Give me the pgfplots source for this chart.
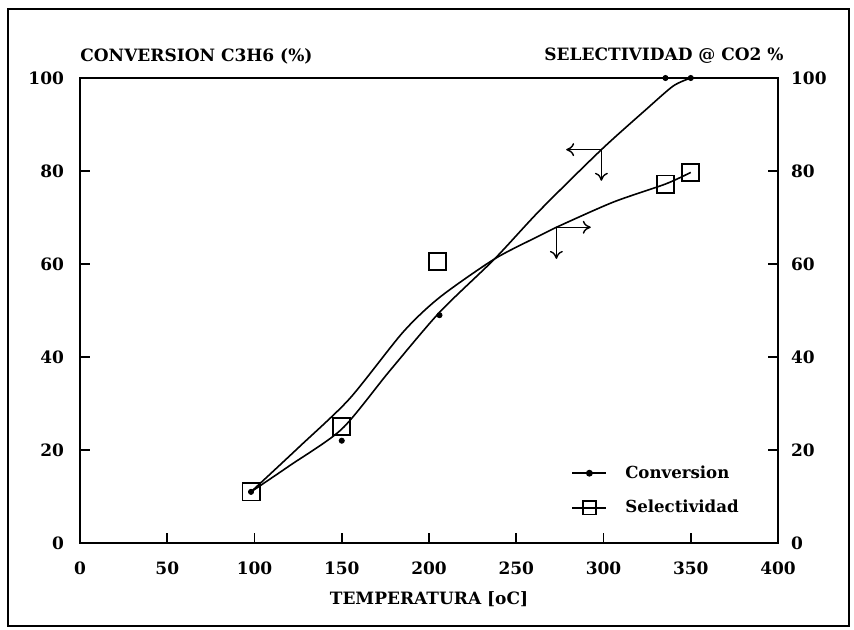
\documentclass[border=0pt]{standalone}
\usepackage{fontspec}
\setmainfont{DejaVu Serif}
\usepackage{pgfplots}
\pgfplotsset{compat=1.18}
\usetikzlibrary{arrows.meta}

\pgfplotsset{
  base/.style={
    scale only axis,
    width=349pt, height=232.5pt,
    at={(0,0)}, anchor=south west,
    xmin=0, xmax=400, ymin=0, ymax=100,
    tick align=inside,
    major tick length=5pt,
    axis line style={line width=1pt},
    tick style={line width=0.9pt, black},
    /pgf/number format/assume math mode=true,
    tick label style={font=\fontsize{8.5}{10}\selectfont\bfseries},
    label style={font=\fontsize{8.5}{10}\selectfont\bfseries},
  }
}

\begin{document}
\begin{tikzpicture}[font=\fontsize{8.5}{10}\selectfont\bfseries]
% canvas and outer frame
\path (-40pt,-43pt) rectangle (387pt,271.5pt);
\draw[line width=1.4pt] (-36pt,-41.5pt) rectangle (384.5pt,267pt);

\begin{axis}[base,
  xtick={0,50,...,400}, ytick={0,20,...,100},
  xtick pos=bottom, ytick pos=left,
  xticklabel style={yshift=-6pt},
  yticklabel style={xshift=-4.5pt},
  xlabel={TEMPERATURA [oC]},
  xlabel style={at={(axis description cs:0.5,0)}, anchor=center, yshift=-28pt},
  clip=false,
  legend style={at={(axis cs:278,18.5)}, anchor=north west, draw=none, fill=none,
    row sep=5.5pt, font=\fontsize{8.3}{10}\selectfont\bfseries},
  legend cell align=left,
]
\addlegendimage{black, line width=0.8pt, mark=*, mark size=1.3pt}
\addlegendentry{\hspace{7pt}Conversion}
\addlegendimage{black, line width=0.8pt, mark=square, mark size=3.3pt, mark options={line width=0.9pt}}
\addlegendentry{\hspace{7pt}Selectividad}

% fitted curves
\addplot[black, line width=0.8pt, smooth, tension=0.45, forget plot] coordinates {
  (98,11)(120,16.6)(150,24.5)(177,36.8)(206,49.6)(237.6,61.1)(263.4,71.5)
  (298.8,84.6)(324.6,93.3)(340,98.3)(350,100)};
\addplot[black, line width=0.8pt, smooth, tension=0.45, forget plot] coordinates {
  (98,11)(126,20.8)(154.4,31)(185,45.3)(206,52.8)(237.6,61.1)(263.4,66.1)
  (273,67.9)(305.5,73.3)(335.5,77.2)(350,79.7)};

% measured points
\addplot[only marks, mark=*, mark size=1.3pt, black, forget plot] coordinates {
  (98,11)(150,22)(206,49)(335.5,100)(350,100)};
\addplot[only marks, mark=square, mark size=4.3pt, black, mark options={line width=0.9pt}, forget plot] coordinates {
  (98,11)(150,25.1)(205,60.6)(335.5,77.2)(350,79.7)};

% axis-pointer arrows
\begin{scope}[line width=0.7pt, -{To[length=4pt,width=6.5pt]}]
\draw (axis cs:298.8,84.6) -- (axis cs:278.6,84.6);
\draw (axis cs:298.8,84.6) -- (axis cs:298.8,77.9);
\draw (axis cs:273,67.9) -- (axis cs:292.7,67.9);
\draw (axis cs:273,67.9) -- (axis cs:273,61.1);
\end{scope}

\node[anchor=west, inner sep=0pt] at ([yshift=11pt]axis description cs:0,1) {CONVERSION C3H6 (\%)};
\node[anchor=east, inner sep=0pt] at ([xshift=3pt,yshift=11pt]axis description cs:1,1) {SELECTIVIDAD @ CO2 \%};
\end{axis}

\begin{axis}[base,
  axis y line*=right, hide x axis,
  ytick={0,20,...,100}, ytick pos=right,
  yticklabel style={xshift=3pt},
]
\end{axis}
\end{tikzpicture}
\end{document}
